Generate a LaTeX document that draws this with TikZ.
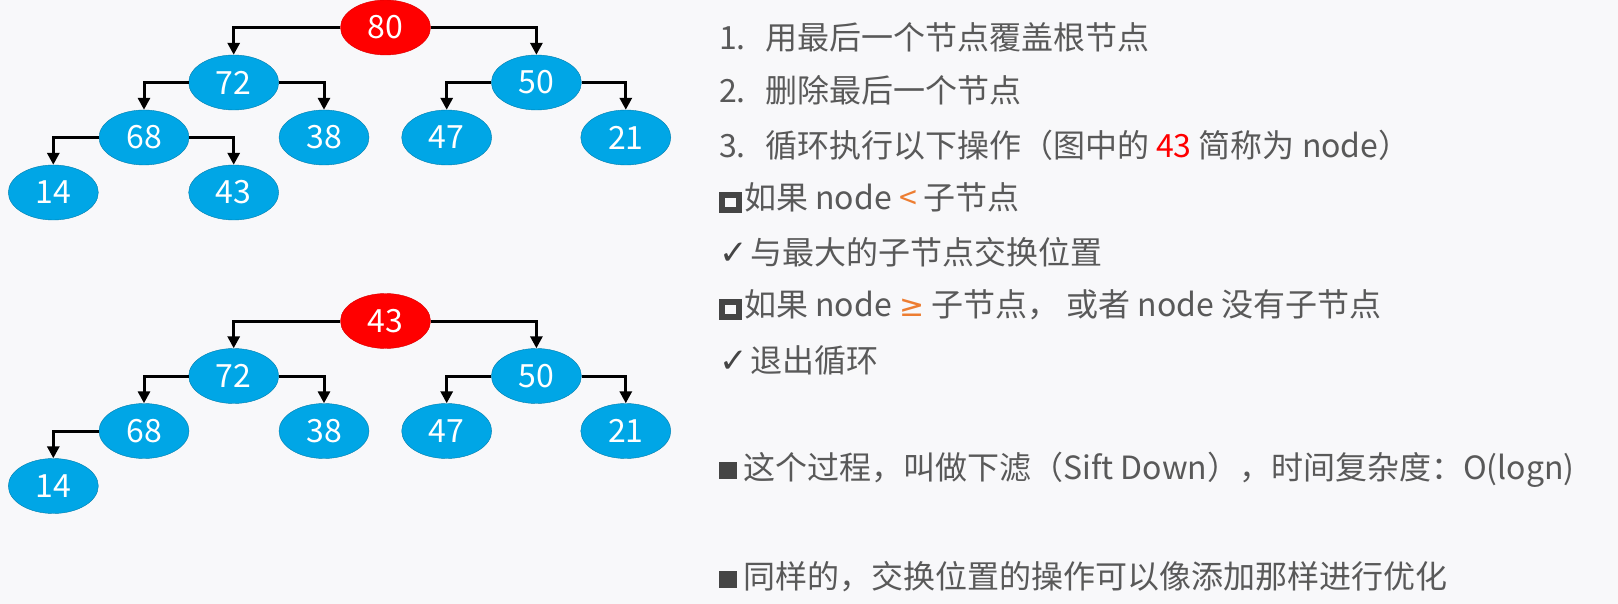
\documentclass[tikz,border=0pt]{standalone}
\usepackage{fontspec}
\setmainfont{Noto Sans CJK SC}
\newfontfamily\symfont{DejaVu Sans}
\usepackage{tikz}
\usetikzlibrary{
	arrows.meta,
	shapes.geometric,
	positioning
}
\definecolor{bgcolor}{HTML}{F8F8FA}
\definecolor{heapblue}{HTML}{00A6E6}
\definecolor{heapred}{HTML}{FF0000}
\definecolor{txtgray}{HTML}{595959}
\definecolor{sqgray}{HTML}{454545}
\definecolor{hiorange}{HTML}{ED7D31}

\tikzset{
	heapnode/.style = {ellipse, fill = heapblue, draw = heapblue!75!black, thin,
		minimum width = 90pt, minimum height = 55pt, inner sep = 0pt,
		text = white, font = \fontsize{32}{32}\selectfont},
	rootnode/.style = {heapnode, fill = heapred, draw = heapred!85!black},
	heapedge/.style = {line width = 3pt, -{Triangle[length = 12pt, width = 12pt]}},
	steptext/.style = {anchor = west, text = txtgray, inner sep = 0pt,
		font = \fontsize{32}{38}\selectfont}
}
\newcommand{\hollowsq}{\raisebox{2pt}{{\setlength{\fboxrule}{6pt}\setlength{\fboxsep}{0pt}%
	\fcolorbox{sqgray}{bgcolor}{\rule{0pt}{9pt}\rule{11pt}{0pt}}}}}
\newcommand{\solidsq}{\raisebox{1pt}{\textcolor{sqgray}{\rule{18pt}{17pt}}}}
\newcommand{\tick}{{\symfont\fontsize{34}{34}\selectfont\textcolor{sqgray}{✓}}}
\newcommand{\notless}{{\symfont\fontsize{30}{30}\selectfont ≥}}

\begin{document}
\begin{tikzpicture}[x = 1pt, y = -1pt]
	\fill[bgcolor] (0,0) rectangle (1618,604);
	\useasboundingbox (0,0) rectangle (1618,604);
	
	% heap before sifting
	\node[rootnode] (a80) at (385.5, 27.5) {80};
	\node[heapnode] (a72) at (233.7, 82.5) {72};
	\node[heapnode] (a50) at (536.4, 82.5) {50};
	\node[heapnode] (a68) at (144, 137.5) {68};
	\node[heapnode] (a38) at (324, 137.5) {38};
	\node[heapnode] (a47) at (446.7, 137.5) {47};
	\node[heapnode] (a21) at (625.8, 137.5) {21};
	\node[heapnode] (a14) at (53.3, 192.5) {14};
	\node[heapnode] (a43) at (233.7, 192.5) {43};
	
	\draw[heapedge] (a80.west) -| (a72.north);
	\draw[heapedge] (a80.east) -| (a50.north);
	\draw[heapedge] (a72.west) -| (a68.north);
	\draw[heapedge] (a72.east) -| (a38.north);
	\draw[heapedge] (a50.west) -| (a47.north);
	\draw[heapedge] (a50.east) -| (a21.north);
	\draw[heapedge] (a68.west) -| (a14.north);
	\draw[heapedge] (a68.east) -| (a43.north);
	
	% heap after moving the last node up
	\node[rootnode] (b43) at (385.5, 321) {43};
	\node[heapnode] (b72) at (233.7, 376) {72};
	\node[heapnode] (b50) at (536.4, 376) {50};
	\node[heapnode] (b68) at (144, 431) {68};
	\node[heapnode] (b38) at (324, 431) {38};
	\node[heapnode] (b47) at (446.7, 431) {47};
	\node[heapnode] (b21) at (625.8, 431) {21};
	\node[heapnode] (b14) at (53.3, 486) {14};
	
	\draw[heapedge] (b43.west) -| (b72.north);
	\draw[heapedge] (b43.east) -| (b50.north);
	\draw[heapedge] (b72.west) -| (b68.north);
	\draw[heapedge] (b72.east) -| (b38.north);
	\draw[heapedge] (b50.west) -| (b47.north);
	\draw[heapedge] (b50.east) -| (b21.north);
	\draw[heapedge] (b68.west) -| (b14.north);
	
	% steps
	\node[steptext] (s1) at (719, 37) {1.\hspace{0.6em}用最后一个节点覆盖根节点};
	\node[steptext] (s2) at (719, 90) {2.\hspace{0.6em}删除最后一个节点};
	\node[steptext] (s3) at (719, 145) {3.\hspace{0.6em}循环执行以下操作（图中的 \textcolor{heapred}{43} 简称为 node）};
	\node[steptext] (s4) at (719, 198) {\hollowsq\hspace{2pt}如果 node \textcolor{hiorange}{<} 子节点};
	\node[steptext] (s5) at (719, 252) {\tick\hspace{3pt}与最大的子节点交换位置};
	\node[steptext] (s6) at (719, 305) {\hollowsq\hspace{2pt}如果 node \textcolor{hiorange}{\notless} 子节点， 或者 node 没有子节点};
	\node[steptext] (s7) at (719, 360) {\tick\hspace{3pt}退出循环};
	\node[steptext] (s8) at (719, 470) {\solidsq\hspace{6pt}这个过程，叫做下滤（Sift Down），时间复杂度：O(logn)};
	\node[steptext] (s9) at (719, 577) {\solidsq\hspace{6pt}同样的，交换位置的操作可以像添加那样进行优化};
	
\end{tikzpicture}
\end{document}
